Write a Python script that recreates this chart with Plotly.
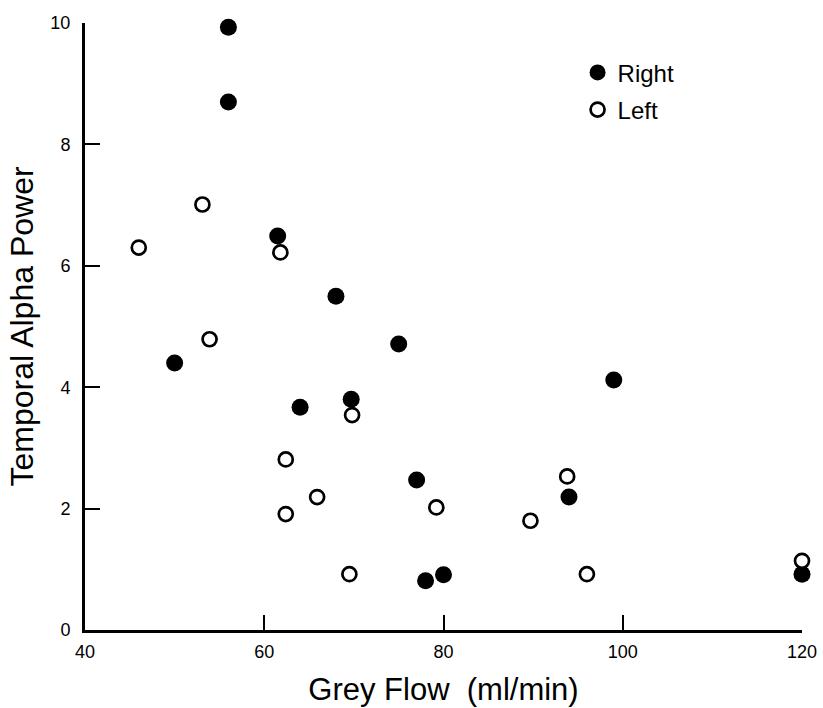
import plotly.graph_objects as go

# Right hemisphere (filled)
right_x = [56, 56, 61.5, 50, 68, 75, 64, 69.7, 99, 77, 94, 78, 80, 120]
right_y = [9.93, 8.70, 6.49, 4.40, 5.50, 4.71, 3.67, 3.80, 4.12, 2.47, 2.19, 0.81, 0.91, 0.92]

# Left hemisphere (open)
left_x = [46, 53.1, 53.9, 61.8, 62.4, 62.4, 65.9, 69.8, 69.5, 79.2, 89.7, 93.8, 96, 120]
left_y = [6.30, 7.01, 4.79, 6.22, 2.81, 1.91, 2.19, 3.54, 0.92, 2.02, 1.80, 2.53, 0.92, 1.14]

x_ticks = [40, 60, 80, 100, 120]
y_ticks = [0, 2, 4, 6, 8, 10]

FONT = "Liberation Sans, Arial, sans-serif"

fig = go.Figure()
fig.add_trace(go.Scatter(
    x=right_x, y=right_y, mode="markers", name="Right",
    marker=dict(symbol="circle", size=17, color="black", line=dict(width=0)),
    cliponaxis=False, legendrank=1, legendgroup="r",
))
fig.add_trace(go.Scatter(
    x=left_x, y=left_y, mode="markers", name="Left",
    marker=dict(symbol="circle", size=14, color="white", line=dict(width=2.7, color="black")),
    cliponaxis=False, legendrank=2, legendgroup="l",
))

fig.update_layout(
    width=823, height=708,
    margin=dict(l=85, r=21, t=23, b=78, autoexpand=False),
    paper_bgcolor="white", plot_bgcolor="white",
    font=dict(family=FONT, color="black", size=18),
    showlegend=True,
    legend=dict(
        x=0.687, y=0.955, xanchor="left", yanchor="top",
        font=dict(size=24, family=FONT),
        bgcolor="rgba(0,0,0,0)", traceorder="grouped", tracegroupgap=3,
    ),
)
fig.update_xaxes(
    range=[40, 120], tickvals=x_ticks, ticktext=[str(v) for v in x_ticks],
    showgrid=False, zeroline=False, showline=True, linecolor="black", linewidth=3,
    ticks="inside", ticklen=15, tickwidth=2, tickcolor="black",
    tickfont=dict(size=18, family=FONT), ticklabeloverflow="allow", automargin=False,
    ticklabelstandoff=3,
    title=dict(text="Grey Flow  (ml/min)", font=dict(size=31, family=FONT), standoff=18),
)
fig.update_yaxes(
    range=[0, 10], tickvals=y_ticks, ticktext=[str(v) for v in y_ticks],
    showgrid=False, zeroline=False, showline=True, linecolor="black", linewidth=3,
    ticks="inside", ticklen=15, tickwidth=2, tickcolor="black",
    tickfont=dict(size=18, family=FONT), ticklabelstandoff=8, automargin=False,
    title=dict(text="Temporal Alpha Power", font=dict(size=32, family=FONT), standoff=8),
)

fig.write_html("out.html", config={"displayModeBar": False},
               post_script="document.body.style.margin='0px';")
